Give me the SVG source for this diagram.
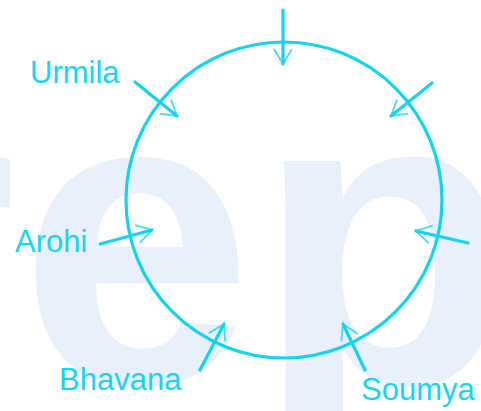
<svg xmlns="http://www.w3.org/2000/svg" width="481" height="411" viewBox="0 0 481 411">
<style>
.wm{font-family:"Liberation Sans",Arial,sans-serif;font-weight:bold;font-size:420px;fill:#e8f0fb;letter-spacing:3px}
.lbl{font-family:"Liberation Sans",Arial,sans-serif;font-size:31px;fill:#19d5ec}
.ring{fill:none;stroke:#14d4ec;stroke-width:3.2}
.arr{fill:none;stroke:#14d4ec;stroke-width:3.2;stroke-linecap:round;marker-end:url(#head)}
</style>
<defs>
<marker id="head" markerUnits="userSpaceOnUse" markerWidth="24" markerHeight="24" viewBox="-20 -12 24 24" refX="0" refY="0" orient="auto">
<path d="M-15,-9 L0,0 L-15,9" fill="none" stroke="#14d4ec" stroke-width="1.8" stroke-opacity="0.8"/>
</marker>
</defs>
<rect width="481" height="411" fill="#ffffff"/>
<text class="wm" x="-147" y="383">rep</text>
<g id="circle"><circle class="ring" cx="284" cy="200" r="158"/></g>
<g id="connectors">
<line class="arr" x1="283" y1="10" x2="283" y2="64"/>
<line class="arr" x1="135" y1="82" x2="177" y2="116"/>
<line class="arr" x1="432" y1="83" x2="391" y2="116"/>
<line class="arr" x1="100" y1="244" x2="152" y2="230"/>
<line class="arr" x1="468" y1="243" x2="416" y2="231"/>
<line class="arr" x1="200" y1="370" x2="224" y2="324"/>
<line class="arr" x1="365" y1="370" x2="343" y2="324"/>
</g>
<g id="urmila"><text class="lbl" x="30" y="83">Urmila</text></g>
<g id="arohi"><text class="lbl" x="15" y="252">Arohi</text></g>
<g id="bhavana"><text class="lbl" x="59" y="390">Bhavana</text></g>
<g id="soumya"><text class="lbl" x="361" y="400">Soumya</text></g>
</svg>
